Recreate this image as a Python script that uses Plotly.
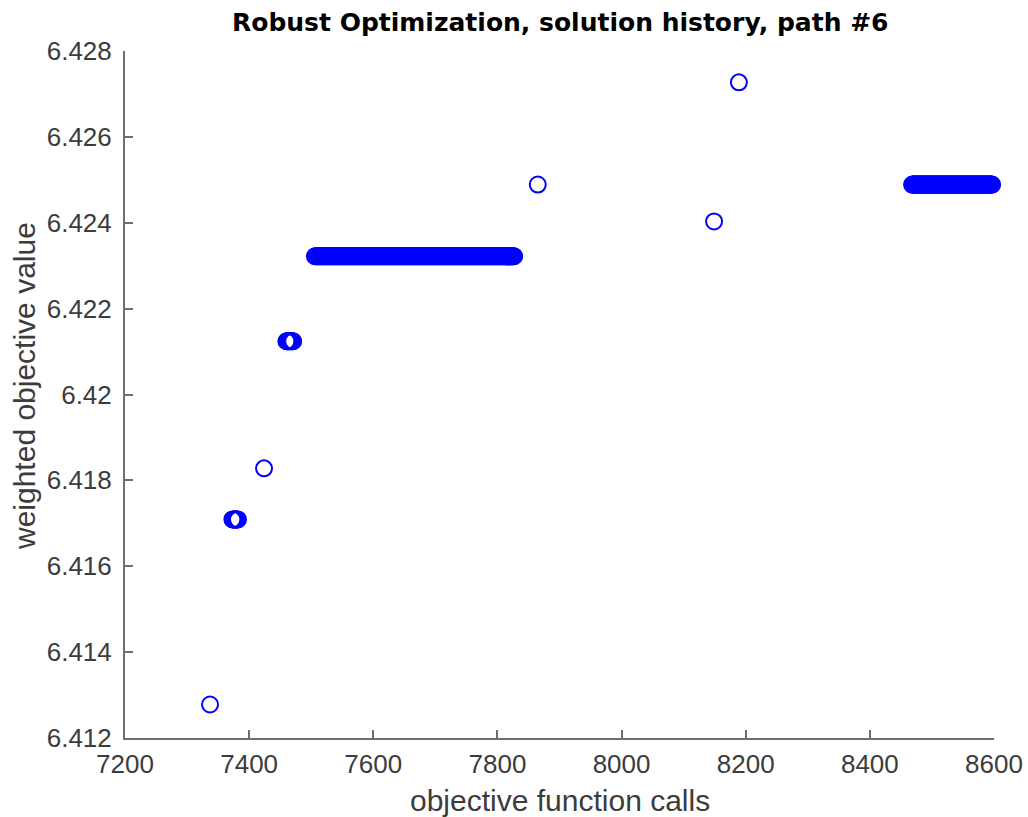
import plotly.graph_objects as go

# isolated solution-history points (objective function call, weighted objective value)
single_calls = [7337, 7424, 7865, 8149, 8189]
single_values = [6.41278, 6.41828, 6.42489, 6.42403, 6.42727]

# runs of consecutive calls that all returned the same value (start call, end call, value)
run_start = [7373, 7460, 7506, 8468]
run_end = [7382, 7471, 7827, 8597]
run_value = [6.41709, 6.42124, 6.42322, 6.42489]

x_ticks = [7200, 7400, 7600, 7800, 8000, 8200, 8400, 8600]
y_ticks = [6.412, 6.414, 6.416, 6.418, 6.42, 6.422, 6.424, 6.426, 6.428]
y_tick_text = ["6.412", "6.414", "6.416", "6.418", "6.42", "6.422", "6.424", "6.426", "6.428"]

xs = list(single_calls)
ys = list(single_values)
for s, e, v in zip(run_start, run_end, run_value):
    for c in range(s, e + 1):
        xs.append(c)
        ys.append(v)

FONT = "Liberation Sans, Arial, sans-serif"
TXT = "#3c3c3c"

fig = go.Figure()
fig.add_trace(go.Scatter(
    x=xs, y=ys, mode="markers", cliponaxis=False,
    marker=dict(symbol="circle-open", size=16, color="#0000ff", line=dict(width=2, color="#0000ff")),
    showlegend=False,
))

axis_common = dict(
    showgrid=False, zeroline=False, showline=True, linecolor="#707070", linewidth=2,
    ticks="inside", ticklen=8, tickwidth=1.5, tickcolor="#707070", mirror=False,
    tickfont=dict(family=FONT, size=26, color=TXT), automargin=False,
)

fig.update_layout(
    width=1028, height=817,
    margin=dict(l=125, r=34, t=51, b=79, autoexpand=False),
    paper_bgcolor="white", plot_bgcolor="white",
    title=dict(text="<b>Robust Optimization, solution history, path #6</b>",
               x=0.545, xanchor="center", y=0.973, yanchor="middle",
               font=dict(family="DejaVu Sans, sans-serif", size=25, color="black")),
    xaxis=dict(range=[7200, 8600], tickvals=x_ticks, ticktext=[str(t) for t in x_ticks],
               ticklabelstandoff=2, **axis_common),
    yaxis=dict(range=[6.412, 6.428], tickvals=y_ticks, ticktext=y_tick_text,
               ticklabelstandoff=6, **axis_common),
    annotations=[
        dict(text="objective function calls", xref="paper", yref="paper", x=0.5, y=-0.091,
             xanchor="center", yanchor="middle", showarrow=False,
             font=dict(family=FONT, size=30, color=TXT)),
        dict(text="weighted objective value", xref="paper", yref="paper", x=-0.1165, y=0.512,
             xanchor="center", yanchor="middle", showarrow=False, textangle=-90,
             font=dict(family=FONT, size=30, color=TXT)),
    ],
)

fig.write_html("out.html")
